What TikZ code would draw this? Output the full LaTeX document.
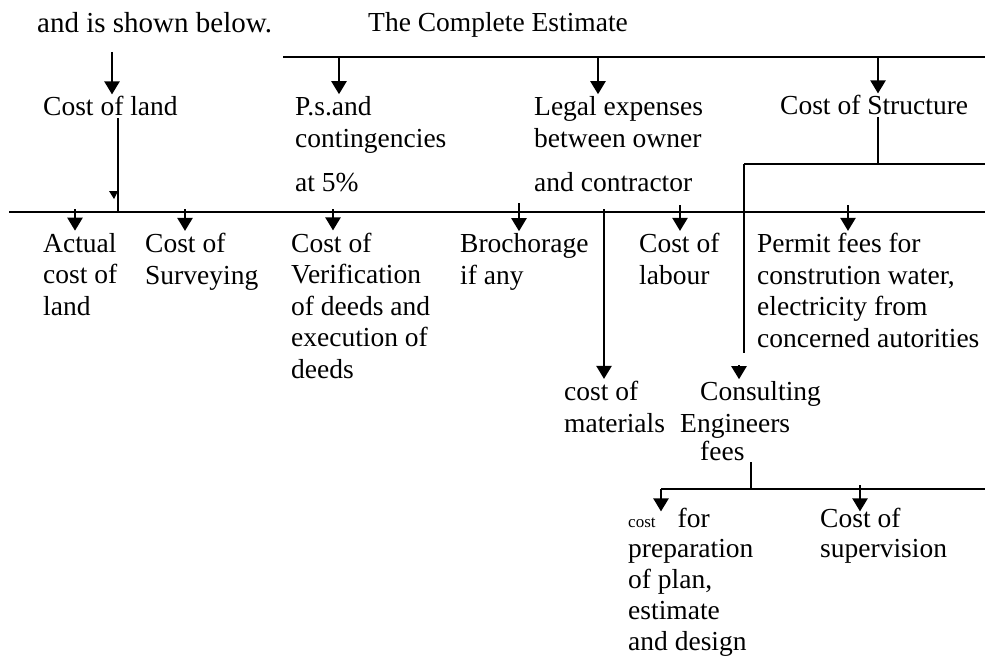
\documentclass[tikz,border=0pt]{standalone}
\usepackage{fontspec}
\setmainfont{Liberation Serif}
\usetikzlibrary{arrows.meta}
\begin{document}
\begin{tikzpicture}[x=1pt,y=-1pt,
  txt/.style={anchor=base west, inner sep=2pt, align=left, font=\fontsize{27.5}{31.5}\selectfont},
  linew/.style={line width=2.8pt},
  arr/.style={line width=2.2pt, -{Triangle[width=15pt,length=13pt]}},
]
\useasboundingbox (0,0) rectangle (985,658);

% texts (anchor = baseline of the LAST line)
\node[txt, font=\fontsize{29}{31.5}\selectfont] (intro) at (35,33) {and is shown below.};
\node[txt] (title) at (366,32) {The Complete Estimate};
\node[txt] (land) at (41,116) {Cost of land};
\node[txt] (ps) at (293,191) {P.s.and\\contingencies\\[12.5pt]at 5\%};
\node[txt] (legal) at (532,191) {Legal expenses\\between owner\\[12.5pt]and contractor};
\node[txt] (struct) at (778,115) {Cost of Structure};

\node[txt] (actual) at (41,315) {Actual\\cost of\\land};
\node[txt] (survey) at (143,284) {Cost of\\Surveying};
\node[txt] (verif) at (289,378) {Cost of\\Verification\\of deeds and\\execution of\\deeds};
\node[txt] (broch) at (458,284) {Brochorage\\if any};
\node[txt] (labour) at (637,284) {Cost of\\labour};
\node[txt] (permit) at (755,347) {Permit fees for\\constrution water,\\electricity from\\concerned autorities};

\node[txt] (mat) at (562,432) {cost of\\materials};
\node[txt] (consult) at (678,460) {\hspace*{20pt}Consulting\\Engineers\\[-3.5pt]\hspace*{20pt}fees};

\node[txt, font=\fontsize{27.5}{30.75}\selectfont] (costfor) at (626,650) {{\fontsize{17}{17}\selectfont cost}\hspace*{22pt}for\\preparation\\of plan,\\estimate\\and design};
\node[txt, font=\fontsize{27.5}{30}\selectfont] (superv) at (818,557) {Cost of\\supervision};

% coordinates
\coordinate (tl) at (283,57);
\coordinate (tr) at (985,57);
\coordinate (ml) at (9,212);
\coordinate (mr) at (985,212);
\coordinate (a0) at (112,52);
\coordinate (a1) at (339,57);
\coordinate (a2) at (598,57);
\coordinate (a3) at (878,57);
\coordinate (lx) at (118,212);
\coordinate (sx) at (878,164);
\coordinate (sl) at (744,164);
\coordinate (sr) at (985,164);
\coordinate (sd) at (744,353);
\coordinate (ch) at (739,365);
\coordinate (m1) at (75,209);
\coordinate (m2) at (185,209);
\coordinate (m3) at (333,209);
\coordinate (m4) at (519,203);
\coordinate (m5) at (604,209);
\coordinate (m6) at (680,205);
\coordinate (m7) at (848,205);
\coordinate (fx) at (751,489);
\coordinate (bl) at (661,489);
\coordinate (br) at (985,489);
\coordinate (b2) at (860,485);

% lines
\draw[linew] (tl) -- (tr);
\draw[linew] (ml) -- (mr);
\draw[line width=2.2pt] (lx |- land.south) -- (lx);
\fill (109,191) -- (118,191) -- (114,199) -- cycle;

\draw[arr] (a0) -- (a0 |- land.north);
\draw[arr] (a1) -- (a1 |- ps.north);
\draw[arr] (a2) -- (a2 |- legal.north);
\draw[arr] (a3) -- (a3 |- struct.north);

\draw[line width=2.2pt] (sx |- struct.south) -- (sx);
\draw[linew] (sl) -- (sr);
\draw[linew] (sl) -- (sd);
\draw[arr] (ch) -- (ch |- consult.north);

\draw[arr] (m1) -- (m1 |- actual.north);
\draw[arr] (m2) -- (m2 |- survey.north);
\draw[arr] (m3) -- (m3 |- verif.north);
\draw[arr] (m4) -- (m4 |- broch.north);
\draw[arr] (m5) -- (m5 |- mat.north);
\draw[arr] (m6) -- (m6 |- labour.north);
\draw[arr] (m7) -- (m7 |- permit.north);

\draw[line width=2.2pt] (fx |- consult.south) -- (fx);
\draw[linew] (bl) -- (br);
\draw[arr] (bl) -- ([yshift=-6pt]bl |- costfor.north);
\draw[arr] (b2) -- ([yshift=-6pt]b2 |- superv.north);
\end{tikzpicture}
\end{document}
